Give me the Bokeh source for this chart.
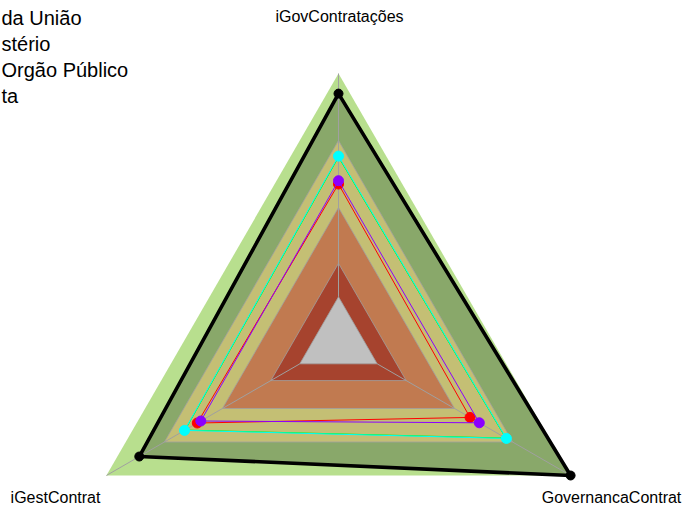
import math
from bokeh.plotting import figure
from bokeh.models import Range1d
from bokeh.core.properties import value
from bokeh.embed import file_html
from bokeh.resources import INLINE

# ---- data ----
axes_labels = ["iGovContratações", "iGestContrat", "GovernancaContrat"]
axis_angles = [90, 210, 330]  # degrees, fmsb order (counter-clockwise from top)

band_levels = [1.00, 0.70, 0.40, 0.15, 0.00]
band_colors = ["#B8DF8E", "#C4BF74", "#C17A50", "#A6432E", "#C0C0C0"]

meta = [0.91, 0.83, 1.00]
orgao_verde = [0.626, 0.593, 0.665]
orgao = [0.630, 0.596, 0.668]
uniao = [0.505, 0.530, 0.480]
ministerio = [0.520, 0.512, 0.528]

legend_labels = ["da União", "stério", "Orgão Público", "ta"]

SEG = 5  # fmsb segments; center gap = 1 segment

def radial(v):
    return (1.0 + v * SEG) / (SEG + 1.0)

def polar(vals, close=False):
    xs, ys = [], []
    for v, a in zip(vals, axis_angles):
        r = radial(v)
        xs.append(r * math.cos(math.radians(a)))
        ys.append(r * math.sin(math.radians(a)))
    if close:
        xs.append(xs[0]); ys.append(ys[0])
    return xs, ys

# ---- layout (data units: 1.0 = outer radius = 268 px; center at 338,341 px) ----
CX, CY, R = 338.0, 341.0, 268.0
W, H = 683, 505
p = figure(width=W, height=H, output_backend="svg", toolbar_location=None,
           x_range=Range1d(-CX / R, (W - CX) / R), y_range=Range1d((CY - H) / R, CY / R),
           min_border=0, outline_line_color=None, background_fill_color="white",
           border_fill_color="white")
p.axis.visible = False
p.grid.visible = False

def px2d(px, py):
    return (px - CX) / R, (CY - py) / R

# outer light green band
xs, ys = polar([band_levels[0]] * 3)
p.patch(xs, ys, fill_color=band_colors[0], line_color=None)

# Meta polygon fill
xs, ys = polar(meta)
p.patch(xs, ys, fill_color="#89A86A", line_color=None)

# inner bands
for lvl, col in zip(band_levels[1:], band_colors[1:]):
    xs, ys = polar([lvl] * 3)
    p.patch(xs, ys, fill_color=col, line_color="#A0A0A0", line_width=1, line_alpha=0.8)

# axis lines (from the center gap to the outer radius)
for a in axis_angles:
    c, s = math.cos(math.radians(a)), math.sin(math.radians(a))
    r0, r1 = radial(0.0), radial(1.0)
    p.line([r0 * c, r1 * c], [r0 * s, r1 * s], line_color="#A0A0A0", line_width=1)

# series
series = [
    (orgao_verde, "#00FF00", 1.0, 0),
    (orgao, "#00FFFF", 1.0, 10),
    (uniao, "#FF0000", 1.0, 10),
    (ministerio, "#8B00FF", 1.0, 10),
]
for vals, col, lw, sz in series:
    xs, ys = polar(vals, close=True)
    p.line(xs, ys, line_color=col, line_width=lw)
    if sz:
        xs, ys = polar(vals)
        p.scatter(xs, ys, size=sz, fill_color=col, line_color=col)

xs, ys = polar(meta, close=True)
p.line(xs, ys, line_color="black", line_width=3.6, line_join="round")
xs, ys = polar(meta)
p.scatter(xs, ys, size=9, fill_color="black", line_color="black")

# axis labels
label_pos = [(339, 16), (55, 497), (611, 497)]
for lab, (px, py) in zip(axes_labels, label_pos):
    lx, ly = px2d(px, py)
    p.text([lx], [ly], text=[lab], text_align="center", text_baseline="middle",
           text_font=value("Liberation Sans"), text_font_size="16px", text_color="black")

# legend texts (left edge of the picture, as in the reference)
leg_pos = [(1, 17), (1, 43), (1, 69), (1, 95)]
for lab, (px, py) in zip(legend_labels, leg_pos):
    lx, ly = px2d(px, py)
    p.text([lx], [ly], text=[lab], text_align="left", text_baseline="middle",
           text_font=value("Liberation Sans"), text_font_size="20px", text_color="black")

open("out.html", "w").write(file_html(p, INLINE))
